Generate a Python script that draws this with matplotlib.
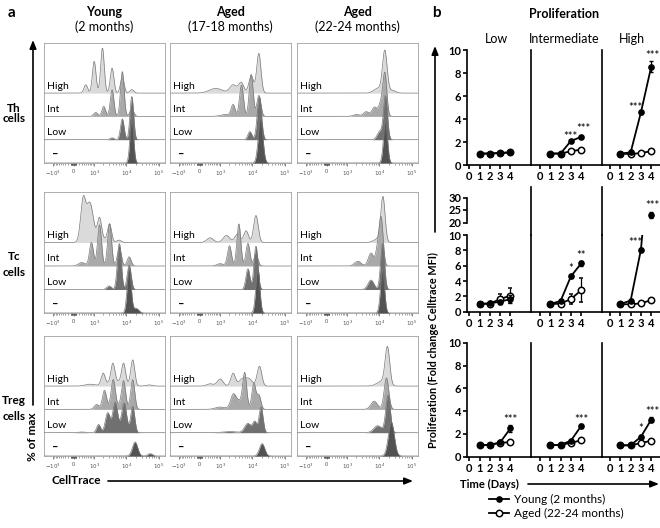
import numpy as np
import matplotlib
matplotlib.use("Agg")
import matplotlib.pyplot as plt
from matplotlib.lines import Line2D

plt.rcParams['font.family'] = ['Lato', 'DejaVu Sans']

# ---------------- panel a: CellTrace histograms ----------------
# each track: list of peaks (centre fluorescence, height in track units, width in decades)
# track order: High, Int, Low, unstimulated (-)
hist_th_young = [
    [(480, 0.36, 0.055), (1000, 1.36, 0.055), (1860, 1.93, 0.055), (3700, 1.07, 0.055), (7600, 0.7, 0.055), (14800, 0.15, 0.06)],
    [(1120, 0.17, 0.06), (2040, 0.43, 0.055), (3700, 1.14, 0.055), (7600, 1.92, 0.055), (14800, 0.3, 0.06)],
    [(3700, 0.08, 0.06), (7600, 0.89, 0.055), (14800, 1.85, 0.055)],
    [(14800, 1.9, 0.055)],
]
hist_th_aged17 = [
    [(700, 0.2, 0.2), (2600, 0.35, 0.1), (4600, 0.45, 0.08), (9300, 0.75, 0.07), (15900, 1.7, 0.065)],
    [(1500, 0.08, 0.15), (2600, 0.49, 0.06), (4700, 1.34, 0.06), (9300, 1.8, 0.06), (16000, 0.9, 0.06)],
    [(8500, 0.35, 0.06), (16500, 1.84, 0.065)],
    [(18000, 1.9, 0.07)],
]
hist_th_aged22 = [
    [(14800, 1.8, 0.07), (9000, 0.2, 0.12), (25000, 0.12, 0.1)],
    [(2000, 0.08, 0.1), (4000, 0.2, 0.08), (7200, 0.4, 0.08), (11000, 0.5, 0.06), (14800, 1.85, 0.06)],
    [(10500, 0.35, 0.08), (15500, 1.85, 0.06)],
    [(15500, 1.8, 0.06)],
]
hist_tc_young = [
    [(370, 1.9, 0.08), (650, 1.1, 0.07), (850, 0.7, 0.07), (1500, 0.8, 0.06), (3100, 0.75, 0.06), (6000, 0.1, 0.07), (1200, 0.3, 0.2)],
    [(300, 0.15, 0.1), (800, 1.0, 0.06), (1500, 1.75, 0.06), (3100, 1.8, 0.06), (6170, 0.8, 0.06), (12300, 0.39, 0.06)],
    [(3000, 0.15, 0.07), (6170, 1.95, 0.06), (12300, 1.03, 0.06)],
    [(12300, 1.9, 0.06), (20000, 0.2, 0.08)],
]
hist_tc_aged17 = [
    [(400, 0.2, 0.1), (1600, 0.3, 0.1), (3500, 0.35, 0.08), (6500, 0.5, 0.07), (13000, 1.15, 0.07)],
    [(1000, 0.1, 0.1), (2000, 0.86, 0.06), (3900, 1.79, 0.06), (7400, 0.96, 0.06), (13000, 0.5, 0.06)],
    [(7400, 0.88, 0.06), (13000, 1.84, 0.06)],
    [(14800, 1.9, 0.06)],
]
hist_tc_aged22 = [
    [(13000, 1.9, 0.065), (9000, 0.15, 0.12)],
    [(2200, 0.2, 0.1), (5600, 0.55, 0.08), (9000, 0.7, 0.06), (11500, 1.95, 0.06)],
    [(5600, 0.4, 0.09), (12600, 1.95, 0.06)],
    [(12600, 1.83, 0.06)],
]
hist_treg_young = [
    [(700, 0.08, 0.15), (1950, 0.5, 0.06), (3900, 0.8, 0.06), (8300, 0.85, 0.06), (15800, 1.1, 0.06), (50000, 0.05, 0.1), (5000, 0.2, 0.25)],
    [(1200, 0.2, 0.07), (2140, 0.75, 0.06), (4000, 1.1, 0.06), (8300, 1.1, 0.06), (15800, 1.25, 0.06), (5000, 0.2, 0.25)],
    [(1400, 0.35, 0.06), (2700, 0.8, 0.07), (4570, 1.1, 0.07), (8700, 1.1, 0.07), (15800, 1.1, 0.06), (6000, 0.25, 0.2), (300, 0.03, 0.1)],
    [(18600, 0.6, 0.08), (53700, 0.1, 0.07)],
]
hist_treg_aged17 = [
    [(400, 0.1, 0.1), (1000, 0.3, 0.09), (2600, 0.55, 0.07), (5000, 0.3, 0.1), (16600, 0.85, 0.07), (8000, 0.3, 0.1)],
    [(1000, 0.1, 0.15), (2600, 0.5, 0.08), (5900, 1.4, 0.06), (11200, 1.1, 0.06), (16000, 0.6, 0.06), (4000, 0.35, 0.15)],
    [(2000, 0.05, 0.2), (7400, 0.4, 0.1), (12000, 0.45, 0.06), (18600, 1.1, 0.06)],
    [(20000, 0.53, 0.08)],
]
hist_treg_aged22 = [
    [(17800, 1.6, 0.07), (12000, 0.2, 0.15)],
    [(7000, 0.35, 0.1), (16600, 1.35, 0.07)],
    [(9000, 0.3, 0.12), (18600, 1.6, 0.07)],
    [(23400, 1.45, 0.09)],
]
hist_panels = [
    [hist_th_young, hist_th_aged17, hist_th_aged22],
    [hist_tc_young, hist_tc_aged17, hist_tc_aged22],
    [hist_treg_young, hist_treg_aged17, hist_treg_aged22],
]
track_labels = ["High", "Int", "Low", "\u2013"]
col_titles = [("Young", "(2 months)"), ("Aged", "(17-18 months)"), ("Aged", "(22-24 months)")]
row_titles = [("Th", "cells"), ("Tc", "cells"), ("Treg", "cells")]

# ---------------- panel b: fold change CellTrace MFI ----------------
days = [1, 2, 3, 4]
day_ticks = [0, 1, 2, 3, 4]
group_names = ["Low", "Intermediate", "High"]
# rows: Th, Tc, Treg ; inner lists: Low, Intermediate, High
young_mean = [
    [[1.0, 1.0, 1.05, 1.1], [1.0, 1.0, 2.1, 2.45], [1.0, 1.1, 4.6, 8.6]],
    [[1.0, 1.1, 1.3, 1.65], [1.0, 1.4, 4.6, 6.3], [1.0, 1.45, 8.1, 23.0]],
    [[1.0, 1.05, 1.25, 2.5], [1.0, 1.05, 1.4, 2.7], [1.0, 1.0, 1.75, 3.25]],
]
young_err = [
    [[0.03, 0.03, 0.05, 0.08], [0.03, 0.05, 0.1, 0.1], [0.03, 0.1, 0.15, 0.45]],
    [[0.05, 0.1, 0.25, 0.5], [0.05, 0.15, 0.2, 0.3], [0.05, 0.15, 0.2, 1.2]],
    [[0.03, 0.05, 0.1, 0.3], [0.03, 0.05, 0.1, 0.2], [0.03, 0.05, 0.15, 0.2]],
]
aged_mean = [
    [[1.0, 1.0, 1.05, 1.1], [1.0, 1.0, 1.2, 1.35], [1.0, 0.95, 1.05, 1.2]],
    [[1.0, 1.05, 1.65, 2.1], [1.0, 1.05, 1.65, 2.8], [1.0, 0.95, 1.1, 1.5]],
    [[1.0, 1.05, 1.2, 1.3], [1.0, 1.05, 1.2, 1.45], [1.0, 1.0, 1.2, 1.4]],
]
aged_err = [
    [[0.03, 0.03, 0.05, 0.05], [0.03, 0.03, 0.05, 0.08], [0.03, 0.03, 0.05, 0.08]],
    [[0.05, 0.1, 0.6, 1.0], [0.05, 0.1, 0.6, 1.6], [0.03, 0.05, 0.1, 0.15]],
    [[0.03, 0.03, 0.05, 0.08], [0.03, 0.03, 0.05, 0.08], [0.03, 0.03, 0.05, 0.08]],
]
# significance marks: (row, group, day, value, text)
stars = [
    (0, 1, 3, 2.5, "***"), (0, 1, 4.2, 3.2, "***"), (0, 2, 2.5, 5.0, "***"), (0, 2, 4.1, 9.6, "***"),
    (1, 1, 3, 5.6, "*"), (1, 1, 4, 7.3, "**"), (1, 2, 2.5, 9.0, "***"),
    (2, 0, 4, 3.3, "***"), (2, 1, 4, 3.3, "***"), (2, 2, 3, 2.5, "*"), (2, 2, 4.1, 4.0, "***"),
]
tc_high_day4 = [23.0]
tc_high_day4_err = [1.2]
tc_high_star = 27.0

W, H = 660, 528
fig = plt.figure(figsize=(W / 100, H / 100), dpi=100)


def px_axes(x0, y0, x1, y1, **kw):
    return fig.add_axes([x0 / W, 1 - y1 / H, (x1 - x0) / W, (y1 - y0) / H], **kw)


C = 500.0


def fwd(x):
    return np.arcsinh(np.asarray(x, dtype=float) / C)


def inv(u):
    return C * np.sinh(np.asarray(u, dtype=float))


XMIN, XMAX = -1962, 152000
ugrid = np.linspace(fwd(XMIN), fwd(XMAX), 900)


def curve(peaks):
    y = np.zeros_like(ugrid)
    for c, h, s in peaks:
        y += h * np.exp(-0.5 * ((ugrid - fwd(c)) / (s * np.log(10))) ** 2)
    return y


fills = ["#dadada", "#a9a9a9", "#707070", "#525252"]
hist_cols = [(44, 165), (170, 291), (297, 418)]
hist_rows = [(43, 163), (192, 313), (336, 456)]
minor = ([-s * m for s in (100, 10) for m in range(1, 10)] + [s * m for s in (10, 100) for m in range(1, 10)]
         + [1000 * m for m in range(2, 10)] + [10000 * m for m in range(2, 10)])

for r in range(3):
    for c in range(3):
        x0, x1 = hist_cols[c]
        y0, y1 = hist_rows[r]
        ax = px_axes(x0, y0, x1, y1)
        ax.set_xscale('function', functions=(fwd, inv))
        ax.set_xlim(XMIN, XMAX)
        ax.set_ylim(0, 5.15)
        xs = inv(ugrid)
        for k, peaks in enumerate(hist_panels[r][c]):
            base = 3 - k
            y = curve(peaks)
            ax.fill_between(xs, base, base + y, color=fills[k], lw=0, zorder=1 + k)
            ax.plot(xs, base + y, color="#787878", lw=0.5, zorder=1 + k)
            if k < 3:
                ax.text(0.025, base + 0.3, track_labels[k], transform=ax.get_yaxis_transform(),
                        fontsize=7.5, va='center', ha='left', zorder=10)
            else:
                ax.text(0.07, base + 0.35, track_labels[k], transform=ax.get_yaxis_transform(),
                        fontsize=8, fontweight='bold', va='center', ha='left', zorder=10)
        ax.set_xticks([-1000, 0, 1000, 10000, 100000])
        ax.set_xticklabels([r'$-10^3$', '0', r'$10^3$', r'$10^4$', r'$10^5$'])
        ax.set_xticks(minor, minor=True)
        ax.set_yticks([])
        ax.tick_params(axis='x', which='major', length=2.5, width=0.5, labelsize=4, pad=1.5, colors='#555555')
        ax.tick_params(axis='x', which='minor', length=1.3, width=0.4, colors='#555555')
        for s in ax.spines.values():
            s.set_color('#a0a0a0')
            s.set_linewidth(0.6)

# ---------------- panel b axes ----------------
b_cols = [(467, 531, -0.22, 5.99), (531, 602, -0.87, 6.02), (602, 660, -0.78, 4.85)]
b_rows = [(50.5, 165), (235, 311.7), (342.7, 456.7)]
LW = 1.2


def style_b(ax, first, bottom=True):
    ax.spines['top'].set_visible(False)
    ax.spines['right'].set_visible(False)
    ax.spines['left'].set_linewidth(LW)
    ax.spines['bottom'].set_linewidth(LW)
    ax.spines['bottom'].set_visible(bottom)
    ax.patch.set_alpha(0)
    if not first:
        ax.tick_params(axis='y', left=False, labelleft=False)
    else:
        ax.tick_params(axis='y', length=3, width=LW, pad=1)
        for t in ax.get_yticklabels():
            t.set_fontweight('bold')
            t.set_fontsize(8)


for r in range(3):
    for c in range(3):
        x0, x1, xl0, xl1 = b_cols[c]
        y0, y1 = b_rows[r]
        ax = px_axes(x0, y0, x1, y1)
        ax.set_xlim(xl0, xl1)
        ax.set_ylim(0, 10)
        ax.set_yticks([0, 2, 4, 6, 8, 10])
        ax.set_xticks(day_ticks)
        ax.set_xticklabels([str(d) for d in day_ticks], fontweight='bold', fontsize=8)
        ax.tick_params(axis='x', length=3, width=LW, pad=1.5)
        style_b(ax, c == 0)
        ax.errorbar(days, aged_mean[r][c], yerr=aged_err[r][c], color='k', marker='o', mfc='white',
                    mec='k', ms=4.6, mew=1.1, lw=1.3, elinewidth=0.9, capsize=1.5, zorder=2)
        ax.errorbar(days, young_mean[r][c], yerr=young_err[r][c], color='k', marker='o', ms=3.8,
                    lw=1.3, elinewidth=0.9, capsize=1.5, zorder=3)
        for (sr, sc, sd, sv, st) in stars:
            if sr == r and sc == c:
                ax.text(sd, sv, st, ha='center', va='center', fontsize=8, clip_on=False, zorder=5)
        if r == 1:
            up = px_axes(x0, 187, x1, 235)
            up.set_xlim(xl0, xl1)
            up.set_ylim(15, 34.2)
            up.set_xticks([])
            up.set_yticks([20, 25, 30])
            style_b(up, c == 0, bottom=False)
            if c == 0:
                up.spines['left'].set_bounds(20, 30)
            if c == 2:
                up.errorbar([days[-1]], tc_high_day4, yerr=tc_high_day4_err, color='k', marker='o',
                            ms=3.8, lw=0, elinewidth=0.9, capsize=1.5)
                up.text(4.1, tc_high_star, "***", ha='center', va='center', fontsize=8, clip_on=False)

# ---------------- overlay: titles, labels, arrows, legend ----------------
ov = fig.add_axes([0, 0, 1, 1], zorder=20)
ov.set_xlim(0, W)
ov.set_ylim(H, 0)
ov.axis('off')

ov.text(8, 13, "a", fontsize=11, fontweight='bold', va='center')
ov.text(432, 13, "b", fontsize=11, fontweight='bold', va='center')
for (x0, x1), (t1, t2) in zip(hist_cols, col_titles):
    xm = (x0 + x1) / 2
    ov.text(xm, 12, t1, fontsize=9, fontweight='bold', ha='center', va='center')
    ov.text(xm, 27, t2, fontsize=9, ha='center', va='center')
for (yc1, yc2), (t1, t2) in zip([(108, 119), (257, 272), (401, 417)], row_titles):
    ov.text(14, yc1, t1, fontsize=8.5, fontweight='bold', ha='center', va='center')
    ov.text(14, yc2, t2, fontsize=8.5, fontweight='bold', ha='center', va='center')

arrow = dict(arrowstyle='-|>,head_length=0.5,head_width=0.2', lw=1.2, color='k', shrinkA=0, shrinkB=0)
ov.annotate('', xy=(33, 40), xytext=(33, 405), arrowprops=arrow)
ov.text(33, 437, "% of max", rotation=90, fontsize=8.5, fontweight='bold', ha='center', va='center')
ov.text(52, 481, "CellTrace", fontsize=8.5, fontweight='bold', ha='left', va='center')
ov.annotate('', xy=(413, 481), xytext=(108, 481), arrowprops=arrow)

ov.text(564, 14, "Proliferation", fontsize=9, fontweight='bold', ha='center', va='center')
for (x0, x1, xl0, xl1), name in zip(b_cols, group_names):
    ov.text((x0 + x1) / 2 - 2 if name != "High" else 632, 39, name, fontsize=9, ha='center', va='center')
ov.annotate('', xy=(435, 46), xytext=(435, 232), arrowprops=arrow)
ov.text(433, 350, "Proliferation (Fold change Celltrace MFI)", rotation=90, fontsize=7.8,
        fontweight='bold', ha='center', va='center')
ov.text(460, 484, "Time (Days)", fontsize=8, fontweight='bold', ha='left', va='center')
ov.annotate('', xy=(659, 484), xytext=(528, 484), arrowprops=arrow)

handles = [Line2D([], [], color='k', marker='o', ms=3.8, lw=1.3),
           Line2D([], [], color='k', marker='o', mfc='white', mec='k', mew=1.1, ms=4.6, lw=1.3)]
fig.legend(handles, ["Young (2 months)", "Aged (22-24 months)"], loc='upper left',
           bbox_to_anchor=(489 / W, 1 - 494 / H), frameon=False, fontsize=8.5, handlelength=1.7,
           handletextpad=0.4, labelspacing=0.25, borderpad=0, borderaxespad=0)

fig.savefig("out.png", dpi=100)
